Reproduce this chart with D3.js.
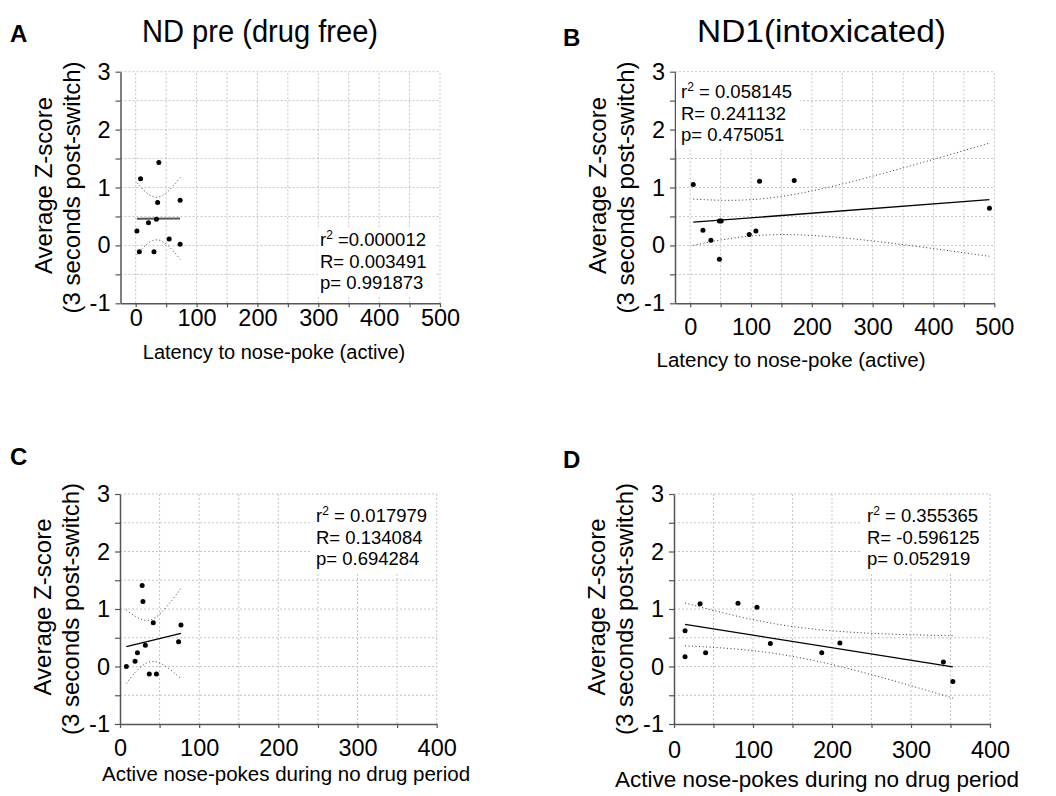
<!DOCTYPE html>
<html>
<head>
<meta charset="utf-8">
<script src="https://cdn.jsdelivr.net/npm/d3@7"></script>
<style>
  body { margin: 0; background: #fff; }
  text { font-family: "Liberation Sans", Arial, sans-serif; fill: #000; }
</style>
</head>
<body>
<div class="chart"></div>
<script>
// data (x = behaviour, y = average z-score)
var latencyPre = [38, 8, 36, 73, 21, 34, 2, 55, 73, 6, 30];
var zPre       = [1.43, 1.15, 0.74, 0.78, 0.39, 0.45, 0.25, 0.11, 0.02, -0.11, -0.11];

var latencyND1 = [5, 171, 114, 492, 48, 51, 21, 34, 48, 97, 108];
var zND1       = [1.05, 1.12, 1.11, 0.64, 0.42, 0.42, 0.26, 0.09, -0.24, 0.19, 0.25];

var pokesPre = [28, 29, 42, 77, 32, 74, 22, 19, 8, 37, 46];
var zPokesPre = [1.41, 1.13, 0.76, 0.72, 0.37, 0.43, 0.24, 0.09, 0.0, -0.13, -0.13];

var pokesND1 = [14, 14, 33, 40, 81, 105, 122, 187, 210, 341, 353];
var zPokesND1 = [0.62, 0.17, 1.09, 0.24, 1.10, 1.03, 0.40, 0.24, 0.41, 0.08, -0.26];

var panelLetters = ["A", "B", "C", "D"];
var titles = ["ND pre (drug free)", "ND1(intoxicated)"];
var xLabels = ["Latency to nose-poke (active)", "Latency to nose-poke (active)",
               "Active nose-pokes during no drug period", "Active nose-pokes during no drug period"];
var yLabel1 = "Average Z-score";
var yLabel2 = "(3 seconds post-switch)";
var statsText = [
  [" =0.000012", "R= 0.003491", "p= 0.991873"],
  [" = 0.058145", "R= 0.241132", "p= 0.475051"],
  [" = 0.017979", "R= 0.134084", "p= 0.694284"],
  [" = 0.355365", "R= -0.596125", "p= 0.052919"]
];

var width = 1056;
var height = 796;

var svg = d3.select(".chart")
            .append("svg")
            .attr("width", width)
            .attr("height", height);

// layout of each panel
var panels = [
  {xs: latencyPre, ys: zPre, xMin: -25, xMax: 500, left: 120.5, right: 440, top: 71.7, bottom: 303.3,
   tickPad: 2, xlx: 274, xly: 359, xlSize: 20, lineColor: "#555", lineW: 2,
   box: [318, 228, 118, 68], sx: 320, sy: 246},
  {xs: latencyND1, ys: zND1, xMin: -25, xMax: 500, left: 675, right: 994.3, top: 71.7, bottom: 303.3,
   tickPad: 11, xlx: 791, xly: 367, xlSize: 20.5, lineColor: "#000", lineW: 1.3,
   box: [676, 72.5, 124, 77], sx: 681, sy: 98},
  {xs: pokesPre, ys: zPokesPre, xMin: 0, xMax: 400, left: 120, right: 436.7, top: 494, bottom: 724,
   tickPad: 11, xlx: 286, xly: 781, xlSize: 20.5, lineColor: "#000", lineW: 1.3,
   box: [310, 495, 126, 78], sx: 316, sy: 522},
  {xs: pokesND1, ys: zPokesND1, xMin: 0, xMax: 400, left: 674, right: 990, top: 494, bottom: 724,
   tickPad: 13, xlx: 817, xly: 787, xlSize: 22.5, lineColor: "#000", lineW: 1.3,
   box: [862, 495, 127, 78], sx: 867, sy: 522}
];

// linear fit and 95% confidence band of the mean
function fit(xs, ys) {
  var n = xs.length;
  var mx = d3.mean(xs), my = d3.mean(ys);
  var sxx = d3.sum(xs, d => (d - mx) * (d - mx));
  var sxy = d3.sum(xs, (d, i) => (d - mx) * (ys[i] - my));
  var b = sxy / sxx;
  var a = my - b * mx;
  var sse = d3.sum(xs, (d, i) => Math.pow(ys[i] - (a + b * d), 2));
  var s = Math.sqrt(sse / (n - 2));
  var t = 2.262;
  return {
    f: x => a + b * x,
    band: x => t * s * Math.sqrt(1 / n + (x - mx) * (x - mx) / sxx)
  };
}

panels.forEach(function(p, k) {
  var g = svg.append("g");
  var xScale = d3.scaleLinear().domain([p.xMin, p.xMax]).range([p.left, p.right]);
  var yScale = d3.scaleLinear().domain([-1, 3]).range([p.bottom, p.top]);

  // grid
  var gx = d3.range(0, p.xMax + 1, 50).filter(d => d > p.xMin);
  var gy = d3.range(-0.5, 3.01, 0.5);
  g.selectAll(".gx").data(gx).enter().append("line")
   .attr("x1", d => xScale(d)).attr("x2", d => xScale(d))
   .attr("y1", p.bottom).attr("y2", p.top)
   .attr("stroke", "#c4c4c4").attr("stroke-width", 1).attr("stroke-dasharray", "2,2");
  g.selectAll(".gy").data(gy).enter().append("line")
   .attr("x1", p.left).attr("x2", p.right)
   .attr("y1", d => yScale(d)).attr("y2", d => yScale(d))
   .attr("stroke", "#c4c4c4").attr("stroke-width", 1).attr("stroke-dasharray", "2,2");

  // axes
  var xAxis = d3.axisBottom(xScale)
                .tickValues(d3.range(0, p.xMax + 1, 50))
                .tickFormat(d => d % 100 === 0 ? String(d) : "")
                .tickSize(4).tickSizeOuter(0).tickPadding(p.tickPad);
  var yAxis = d3.axisLeft(yScale)
                .tickValues(d3.range(-1, 3.01, 0.5))
                .tickFormat(d => Number.isInteger(d) ? String(d) : "")
                .tickSize(5).tickSizeOuter(0).tickPadding(5);
  var ax = g.append("g").attr("transform", "translate(0," + p.bottom + ")").call(xAxis);
  var ay = g.append("g").attr("transform", "translate(" + p.left + ",0)").call(yAxis);
  [ax, ay].forEach(function(a) {
    a.select(".domain").attr("stroke", "#555").attr("stroke-width", 1.5);
    a.selectAll(".tick line").attr("stroke", "#555").attr("stroke-width", 1.2);
    a.selectAll("text").attr("font-size", 23.5).attr("fill", "#000")
     .attr("font-family", "'Liberation Sans', Arial, sans-serif");
  });
  ay.selectAll("text").text(d => Number.isInteger(d) ? (d < 0 ? "-" + Math.abs(d) : String(d)) : "");

  // white box behind stats
  g.append("rect")
   .attr("x", p.box[0]).attr("y", p.box[1])
   .attr("width", p.box[2]).attr("height", p.box[3])
   .attr("fill", "#fff");

  // fit + band
  var m = fit(p.xs, p.ys);
  var x0 = d3.min(p.xs), x1 = d3.max(p.xs);
  var steps = d3.range(0, 61).map(i => x0 + (x1 - x0) * i / 60);
  var up = d3.line().x(d => xScale(d)).y(d => yScale(m.f(d) + m.band(d)));
  var lo = d3.line().x(d => xScale(d)).y(d => yScale(m.f(d) - m.band(d)));
  g.append("path").attr("d", up(steps)).attr("fill", "none")
   .attr("stroke", "#333").attr("stroke-width", 1).attr("stroke-dasharray", "1,2.5");
  g.append("path").attr("d", lo(steps)).attr("fill", "none")
   .attr("stroke", "#333").attr("stroke-width", 1).attr("stroke-dasharray", "1,2.5");
  g.append("line")
   .attr("x1", xScale(x0)).attr("y1", yScale(m.f(x0)))
   .attr("x2", xScale(x1)).attr("y2", yScale(m.f(x1)))
   .attr("stroke", p.lineColor).attr("stroke-width", p.lineW);

  // points
  g.selectAll(".dot").data(p.xs).enter().append("circle")
   .attr("cx", d => xScale(d))
   .attr("cy", (d, i) => yScale(p.ys[i]))
   .attr("r", 2.5)
   .attr("fill", "#000");

  // stats
  var st = g.append("text").attr("x", p.sx).attr("y", p.sy).attr("font-size", 18.5);
  st.append("tspan").text("r");
  st.append("tspan").attr("dy", -7).attr("font-size", 12).text("2");
  st.append("tspan").attr("dy", 7).text(statsText[k][0]);
  g.append("text").attr("x", p.sx).attr("y", p.sy + 21.7).attr("font-size", 18.5).text(statsText[k][1]);
  g.append("text").attr("x", p.sx).attr("y", p.sy + 43.4).attr("font-size", 18.5).text(statsText[k][2]);

  // axis labels
  g.append("text")
   .attr("x", p.xlx).attr("y", p.xly)
   .attr("text-anchor", "middle")
   .attr("font-size", p.xlSize)
   .text(xLabels[k]);
  var cy = (p.top + p.bottom) / 2;
  g.append("text")
   .attr("transform", "translate(" + (p.left - 69) + "," + (cy - 2) + ") rotate(-90)")
   .attr("text-anchor", "middle")
   .attr("font-size", 24)
   .text(yLabel1);
  g.append("text")
   .attr("transform", "translate(" + (p.left - 41) + "," + cy + ") rotate(-90)")
   .attr("text-anchor", "middle")
   .attr("font-size", 24)
   .text(yLabel2);

  // panel letter
  svg.append("text")
     .attr("x", k % 2 === 0 ? 10 : 563)
     .attr("y", [42, 46, 465, 468][k])
     .attr("font-size", 24)
     .attr("font-weight", "bold")
     .attr("font-family", "Lato, 'Open Sans', sans-serif")
     .text(panelLetters[k]);
});

// titles
svg.append("text")
   .attr("x", 142).attr("y", 42)
   .attr("font-size", 31)
   .attr("textLength", 236).attr("lengthAdjust", "spacingAndGlyphs")
   .text(titles[0]);
svg.append("text")
   .attr("x", 697).attr("y", 42)
   .attr("font-size", 31)
   .attr("textLength", 249).attr("lengthAdjust", "spacingAndGlyphs")
   .text(titles[1]);
</script>
</body>
</html>
